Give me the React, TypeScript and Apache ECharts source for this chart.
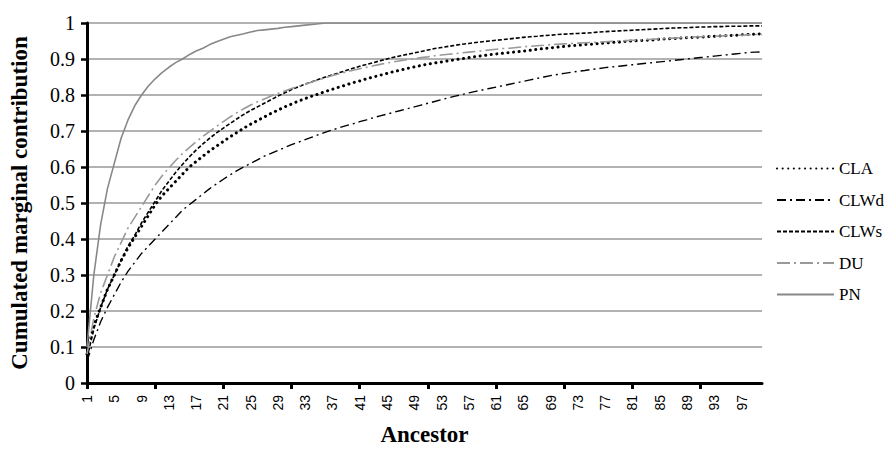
import React, { useEffect, useRef } from "react";
import * as echarts from "echarts";

const categories: string[] = Array.from({ length: 100 }, (_, i) => String(i + 1));
const seriesNames = ["CLA", "CLWd", "CLWs", "DU", "PN"];

const CLA = [0.08, 0.16, 0.21, 0.26, 0.30, 0.34, 0.375, 0.405, 0.435, 0.465, 0.495, 0.52, 0.54, 0.56, 0.58, 0.60, 0.615, 0.63, 0.645, 0.658, 0.671, 0.684, 0.696, 0.708, 0.719, 0.729, 0.739, 0.749, 0.758, 0.767, 0.775, 0.783, 0.79, 0.797, 0.803, 0.81, 0.816, 0.822, 0.828, 0.834, 0.839, 0.845, 0.85, 0.855, 0.86, 0.865, 0.869, 0.874, 0.878, 0.882, 0.886, 0.889, 0.892, 0.895, 0.898, 0.901, 0.904, 0.907, 0.909, 0.912, 0.914, 0.916, 0.918, 0.92, 0.922, 0.924, 0.927, 0.929, 0.931, 0.933, 0.935, 0.937, 0.938, 0.94, 0.941, 0.943, 0.944, 0.946, 0.947, 0.949, 0.95, 0.951, 0.952, 0.953, 0.955, 0.956, 0.957, 0.958, 0.959, 0.96, 0.961, 0.962, 0.963, 0.964, 0.965, 0.966, 0.967, 0.968, 0.969, 0.97];

const CLWd = [0.06, 0.12, 0.17, 0.21, 0.245, 0.28, 0.31, 0.335, 0.36, 0.38, 0.40, 0.42, 0.44, 0.46, 0.48, 0.495, 0.51, 0.525, 0.54, 0.553, 0.566, 0.578, 0.59, 0.60, 0.61, 0.62, 0.63, 0.638, 0.646, 0.654, 0.662, 0.669, 0.676, 0.683, 0.69, 0.697, 0.703, 0.709, 0.715, 0.72, 0.726, 0.731, 0.737, 0.742, 0.747, 0.752, 0.757, 0.762, 0.767, 0.772, 0.777, 0.782, 0.787, 0.792, 0.797, 0.801, 0.806, 0.81, 0.814, 0.818, 0.822, 0.826, 0.83, 0.834, 0.838, 0.842, 0.846, 0.85, 0.854, 0.857, 0.86, 0.863, 0.866, 0.868, 0.871, 0.873, 0.876, 0.878, 0.88, 0.882, 0.884, 0.886, 0.888, 0.89, 0.892, 0.894, 0.896, 0.898, 0.9, 0.902, 0.904, 0.906, 0.908, 0.91, 0.912, 0.914, 0.916, 0.918, 0.919, 0.92];

const CLWs = [0.07, 0.15, 0.21, 0.26, 0.30, 0.34, 0.38, 0.41, 0.445, 0.475, 0.505, 0.535, 0.56, 0.585, 0.607, 0.628, 0.647, 0.664, 0.68, 0.695, 0.708, 0.721, 0.734, 0.746, 0.757, 0.767, 0.777, 0.787, 0.797, 0.806, 0.815, 0.823, 0.83, 0.837, 0.844, 0.85, 0.856, 0.862, 0.868, 0.874, 0.88, 0.885, 0.89, 0.895, 0.9, 0.905, 0.909, 0.913, 0.917, 0.921, 0.925, 0.929, 0.932, 0.935, 0.938, 0.941, 0.943, 0.946, 0.948, 0.95, 0.952, 0.954, 0.956, 0.958, 0.96, 0.962, 0.963, 0.965, 0.966, 0.968, 0.969, 0.97, 0.971, 0.972, 0.973, 0.975, 0.976, 0.977, 0.978, 0.979, 0.98, 0.981, 0.982, 0.983, 0.984, 0.985, 0.986, 0.987, 0.987, 0.988, 0.989, 0.989, 0.99, 0.99, 0.991, 0.991, 0.991, 0.992, 0.992, 0.992];

const DU = [0.08, 0.18, 0.25, 0.30, 0.35, 0.39, 0.43, 0.46, 0.49, 0.52, 0.55, 0.575, 0.597, 0.618, 0.637, 0.654, 0.67, 0.685, 0.699, 0.713, 0.726, 0.739, 0.751, 0.762, 0.772, 0.781, 0.789, 0.797, 0.804, 0.811, 0.818, 0.824, 0.83, 0.836, 0.842, 0.848, 0.854, 0.859, 0.864, 0.869, 0.873, 0.877, 0.881, 0.885, 0.889, 0.892, 0.895, 0.898, 0.901, 0.904, 0.906, 0.909, 0.911, 0.913, 0.915, 0.917, 0.919, 0.921, 0.923, 0.925, 0.927, 0.929, 0.93, 0.932, 0.934, 0.935, 0.937, 0.938, 0.94, 0.941, 0.942, 0.943, 0.944, 0.945, 0.946, 0.947, 0.948, 0.949, 0.95, 0.951, 0.952, 0.953, 0.954, 0.955, 0.956, 0.957, 0.958, 0.959, 0.96, 0.961, 0.962, 0.963, 0.963, 0.964, 0.965, 0.966, 0.966, 0.967, 0.968, 0.968];

const PN = [0.10, 0.30, 0.44, 0.54, 0.61, 0.68, 0.73, 0.77, 0.80, 0.825, 0.845, 0.862, 0.877, 0.89, 0.90, 0.912, 0.922, 0.93, 0.94, 0.948, 0.955, 0.962, 0.966, 0.97, 0.975, 0.979, 0.981, 0.983, 0.985, 0.988, 0.99, 0.992, 0.994, 0.996, 0.998,
  1, 1, 1, 1, 1, 1, 1, 1, 1, 1, 1, 1, 1, 1, 1, 1, 1, 1, 1, 1, 1, 1, 1, 1, 1, 1, 1, 1, 1, 1, 1, 1, 1, 1, 1, 1, 1, 1, 1, 1, 1, 1, 1, 1, 1, 1, 1, 1, 1, 1, 1, 1, 1, 1, 1, 1, 1, 1, 1, 1, 1, 1, 1, 1, 1];

const serif = "Liberation Serif";
const sans = "Liberation Sans";

export default function App() {
  const ref = useRef<HTMLDivElement>(null);
  useEffect(() => {
    if (!ref.current) return;
    const chart = echarts.init(ref.current, undefined, { renderer: "svg" });
    const mk = (name: string, data: number[], color: string, width: number, type: any, cap: string = "butt") => ({
      name,
      type: "line",
      data,
      showSymbol: false,
      symbol: "none",
      smooth: false,
      lineStyle: { color, width, type, cap },
      itemStyle: { color },
    });
    chart.setOption({
      animation: false,
      backgroundColor: "#ffffff",
      grid: { left: 87, right: 123, top: 23, bottom: 60, containLabel: false },
      legend: {
        orient: "vertical",
        left: 771,
        top: 155,
        itemWidth: 57,
        itemHeight: 18,
        itemGap: 14.5,
        data: seriesNames,
        itemStyle: { opacity: 0, borderWidth: 0 },
        textStyle: { fontFamily: serif, fontSize: 17, color: "#000" },
      },
      xAxis: {
        type: "category",
        data: categories,
        boundaryGap: false,
        name: "Ancestor",
        nameLocation: "middle",
        nameGap: 40,
        nameTextStyle: { fontFamily: serif, fontSize: 23, fontWeight: "bold", color: "#000" },
        axisLine: { lineStyle: { color: "#000", width: 3 } },
        axisTick: {
          show: true,
          interval: (i: number) => i % 10 === 0,
          length: 6,
          lineStyle: { color: "#000", width: 3 },
        },
        axisLabel: {
          interval: 3,
          rotate: 90,
          margin: 12,
          fontFamily: sans,
          fontSize: 14,
          color: "#000",
        },
        splitLine: { show: false },
      },
      yAxis: {
        type: "value",
        min: 0,
        max: 1,
        interval: 0.1,
        name: "Cumulated marginal contribution",
        nameLocation: "middle",
        nameGap: 56,
        nameTextStyle: { fontFamily: serif, fontSize: 23, fontWeight: "bold", color: "#000" },
        axisLine: { show: true, lineStyle: { color: "#000", width: 3 } },
        axisTick: { show: true, length: 6, lineStyle: { color: "#000", width: 2.5 } },
        axisLabel: {
          margin: 12,
          fontFamily: serif,
          fontSize: 20,
          color: "#000",
        },
        splitLine: { show: true, lineStyle: { color: "#999", width: 1.5 } },
      },
      series: [
        mk("CLA", CLA, "#000000", 3, [0.1, 5.5], "round"),
        mk("CLWd", CLWd, "#000000", 1.4, [9, 4, 2, 4]),
        mk("CLWs", CLWs, "#000000", 1.6, [4, 2]),
        mk("DU", DU, "#999999", 1.6, [13, 4, 2, 4]),
        mk("PN", PN, "#888888", 1.6, "solid"),
      ],
    });
    return () => chart.dispose();
  }, []);
  return (
    <div
      ref={ref}
      style={{ position: "fixed", left: 0, top: 0, width: 885, height: 451, background: "#fff" }}
    />
  );
}
